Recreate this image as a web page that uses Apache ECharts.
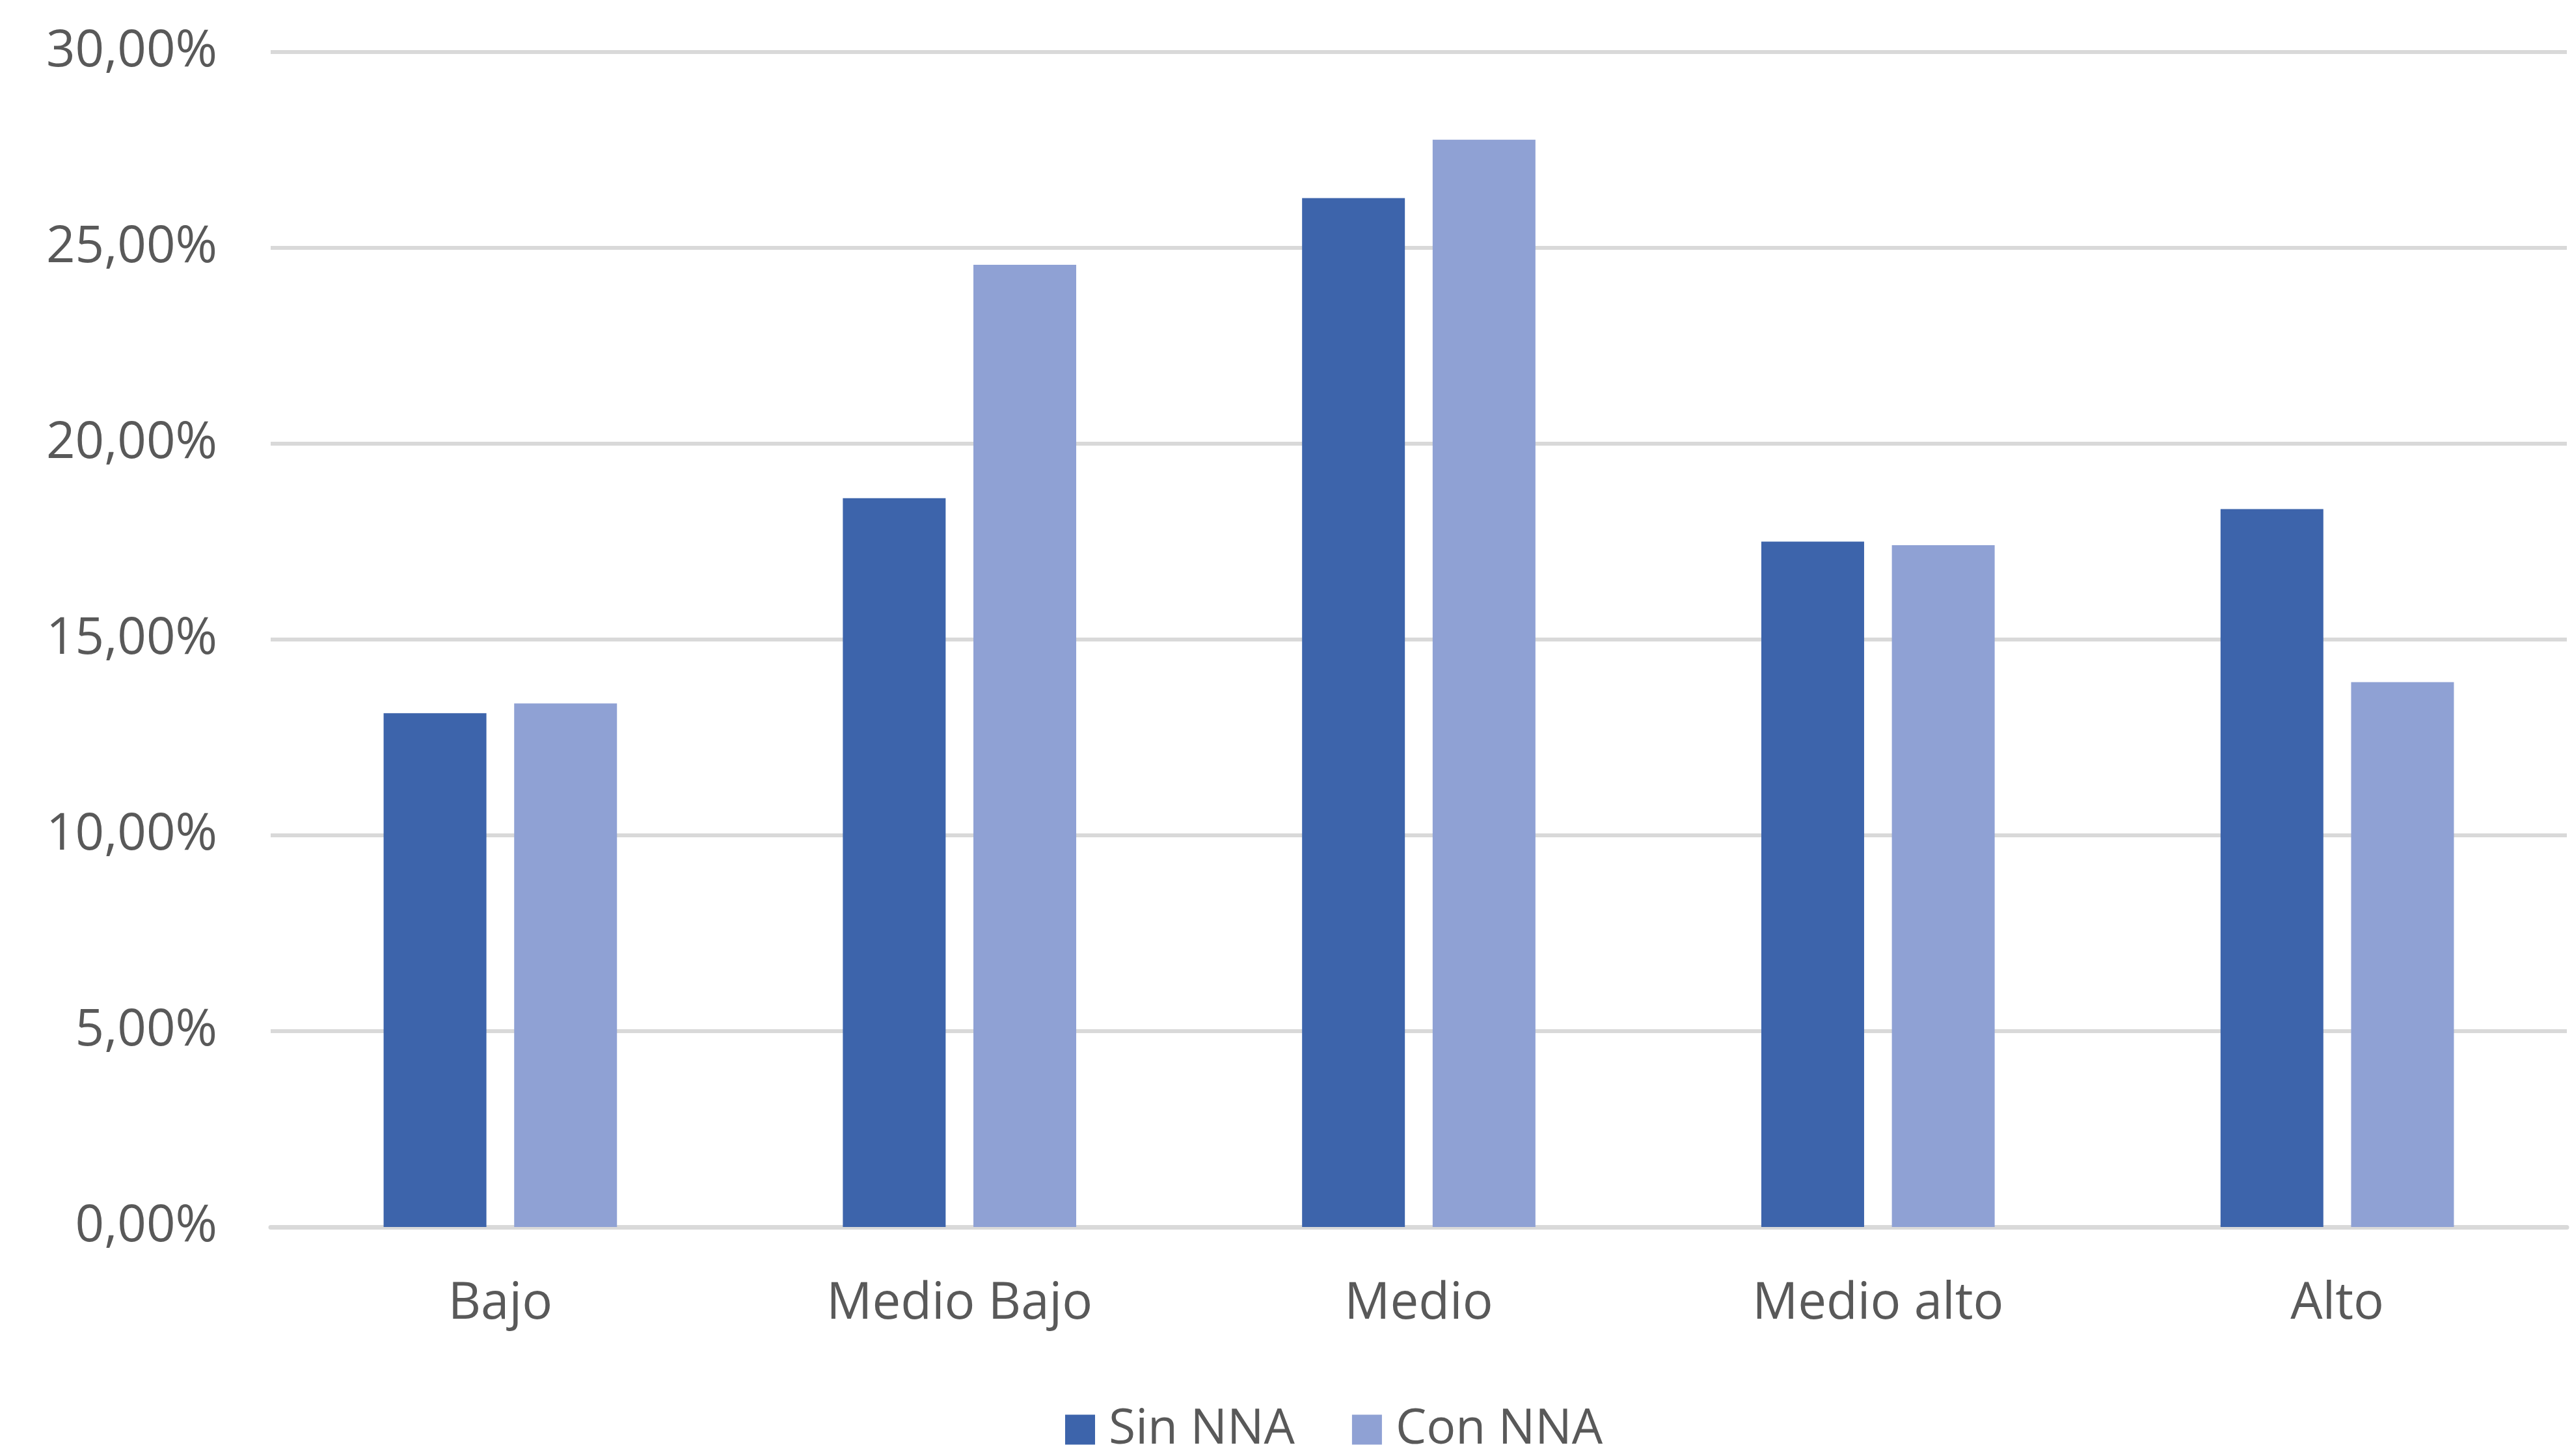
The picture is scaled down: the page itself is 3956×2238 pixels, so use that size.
<!DOCTYPE html>
<html>
<head>
<meta charset="utf-8">
<script src="https://cdn.jsdelivr.net/npm/echarts@6/dist/echarts.min.js"></script>
<style>
html,body{margin:0;padding:0;background:#ffffff;}
#chart{width:3956px;height:2238px;}
</style>
</head>
<body>
<div id="chart"></div>
<script>
const categories = ['Bajo', 'Medio Bajo', 'Medio', 'Medio alto', 'Alto'];
const sinNNA = [13.12, 18.61, 26.27, 17.50, 18.33];
const conNNA = [13.37, 24.57, 27.76, 17.41, 13.91];
const seriesNames = ['Sin NNA', 'Con NNA'];
const yMin = 0, yMax = 30, yStep = 5;

const FONT = '"Open Sans", "Noto Sans", sans-serif';
const TXT = '#595959';
const chart = echarts.init(document.getElementById('chart'), null, {renderer: 'canvas'});
chart.setOption({
  backgroundColor: '#ffffff',
  animation: false,
  grid: {left: 416, right: 11, top: 80, bottom: 352, containLabel: false},
  legend: {
    data: seriesNames,
    left: 1632,
    top: 2155,
    icon: 'rect',
    itemWidth: 46,
    itemHeight: 46,
    itemGap: 88,
    textStyle: {fontFamily: FONT, fontSize: 75, color: TXT, padding: [0, 0, 0, 16]}
  },
  xAxis: {
    type: 'category',
    data: categories,
    axisLine: {show: true, lineStyle: {color: '#d9d9d9', width: 7}},
    axisTick: {show: false},
    axisLabel: {fontFamily: FONT, fontSize: 78, color: TXT, margin: 80}
  },
  yAxis: {
    type: 'value',
    min: yMin, max: yMax, interval: yStep,
    axisLine: {show: false},
    axisTick: {show: false},
    splitLine: {show: true, lineStyle: {color: '#d9d9d9', width: 6}},
    axisLabel: {
      fontFamily: FONT, fontSize: 78, color: TXT, margin: 82,
      formatter: v => v.toFixed(2).replace('.', ',') + '%'
    }
  },
  series: [
    {name: seriesNames[0], type: 'bar', data: sinNNA, barWidth: 158, barGap: '27%',
     itemStyle: {color: '#3d64ab'}},
    {name: seriesNames[1], type: 'bar', data: conNNA, barWidth: 158, barGap: '27%',
     itemStyle: {color: '#8fa1d4'}}
  ]
});
</script>
</body>
</html>
